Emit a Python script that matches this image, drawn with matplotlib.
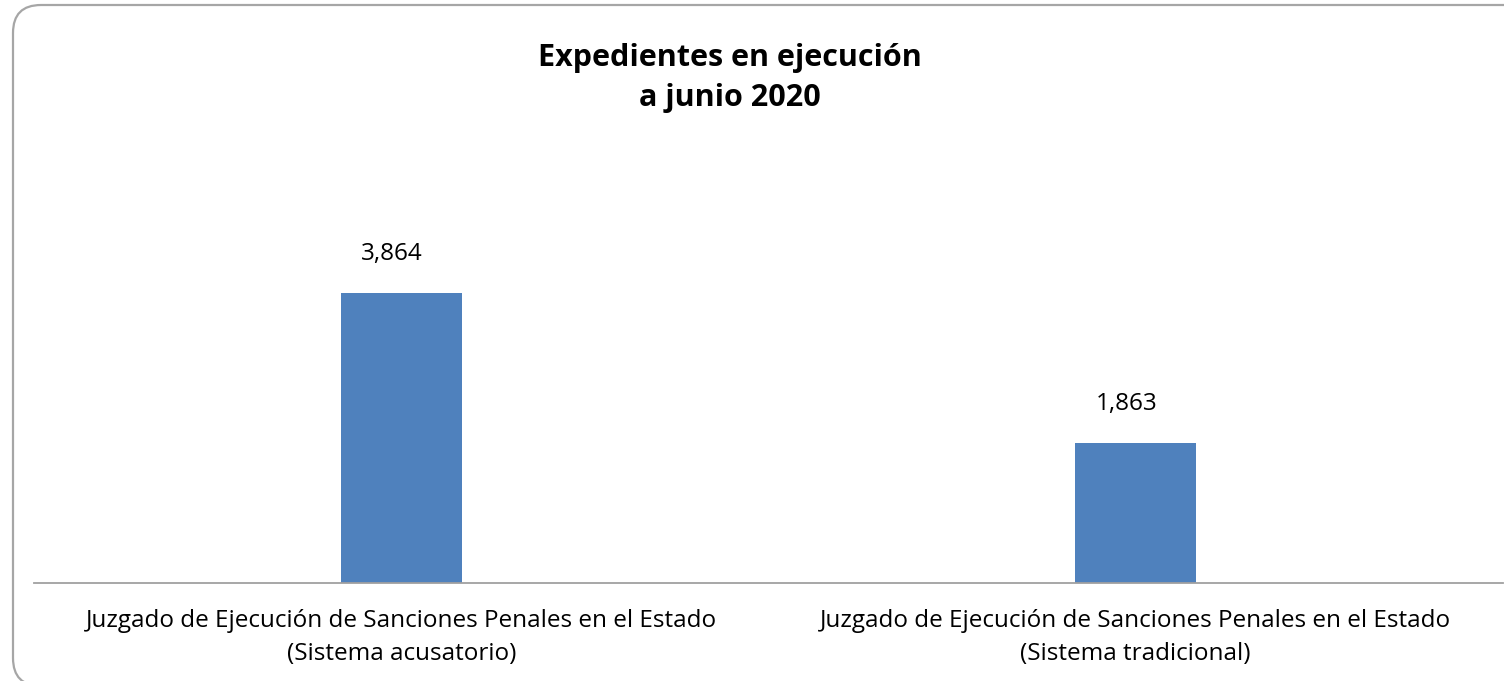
import matplotlib.pyplot as plt
from matplotlib.patches import FancyBboxPatch
from matplotlib.transforms import IdentityTransform

plt.rcParams['font.family'] = ['Open Sans', 'DejaVu Sans']

# Data
categories = ['Juzgado de Ejecución de Sanciones Penales en el Estado\n(Sistema acusatorio)',
              'Juzgado de Ejecución de Sanciones Penales en el Estado\n(Sistema tradicional)']
values = [3864, 1863]
value_labels = ['3,864', '1,863']

W, H = 1504, 681
fig = plt.figure(figsize=(W / 100, H / 100), dpi=100)

# rounded chart border (pixel coordinates)
frame = FancyBboxPatch((13, -5), 1540, 681, boxstyle='round,pad=0,rounding_size=28',
                       transform=IdentityTransform(), facecolor='none',
                       edgecolor='#a6a6a6', linewidth=1.6, zorder=5)
fig.patches.append(frame)

# axes placed in pixels: x 34..1503, baseline at y=583
ax_top = 583 - 375.3
ax = fig.add_axes([34 / W, (H - 583) / H, 1469 / W, (583 - ax_top) / H])
ax.set_facecolor('none')

x = [0, 1]
ax.bar(x, values, width=0.165, color='#4F81BD', zorder=2)
ax.set_xlim(-0.5, 1.5)
ax.set_ylim(0, 5000)

for xi, v, lab in zip(x, values, value_labels):
    ax.annotate(lab, (xi, v), xytext=(-9, 27), textcoords='offset pixels',
                ha='center', va='bottom', fontsize=17.5, color='black')

ax.set_xticks(x)
ax.set_xticklabels(categories, fontsize=17.5, linespacing=1.5)
ax.tick_params(axis='x', length=0, pad=19)
ax.set_yticks([])
for s in ['top', 'right', 'left']:
    ax.spines[s].set_visible(False)
ax.spines['bottom'].set_color('#a0a0a0')
ax.spines['bottom'].set_linewidth(1.3)

fig.text(730 / W, 1 - 78 / H, 'Expedientes en ejecución\na junio 2020',
         ha='center', va='center', fontsize=22, fontweight='bold', linespacing=1.45)

fig.savefig('out.png', dpi=100)
